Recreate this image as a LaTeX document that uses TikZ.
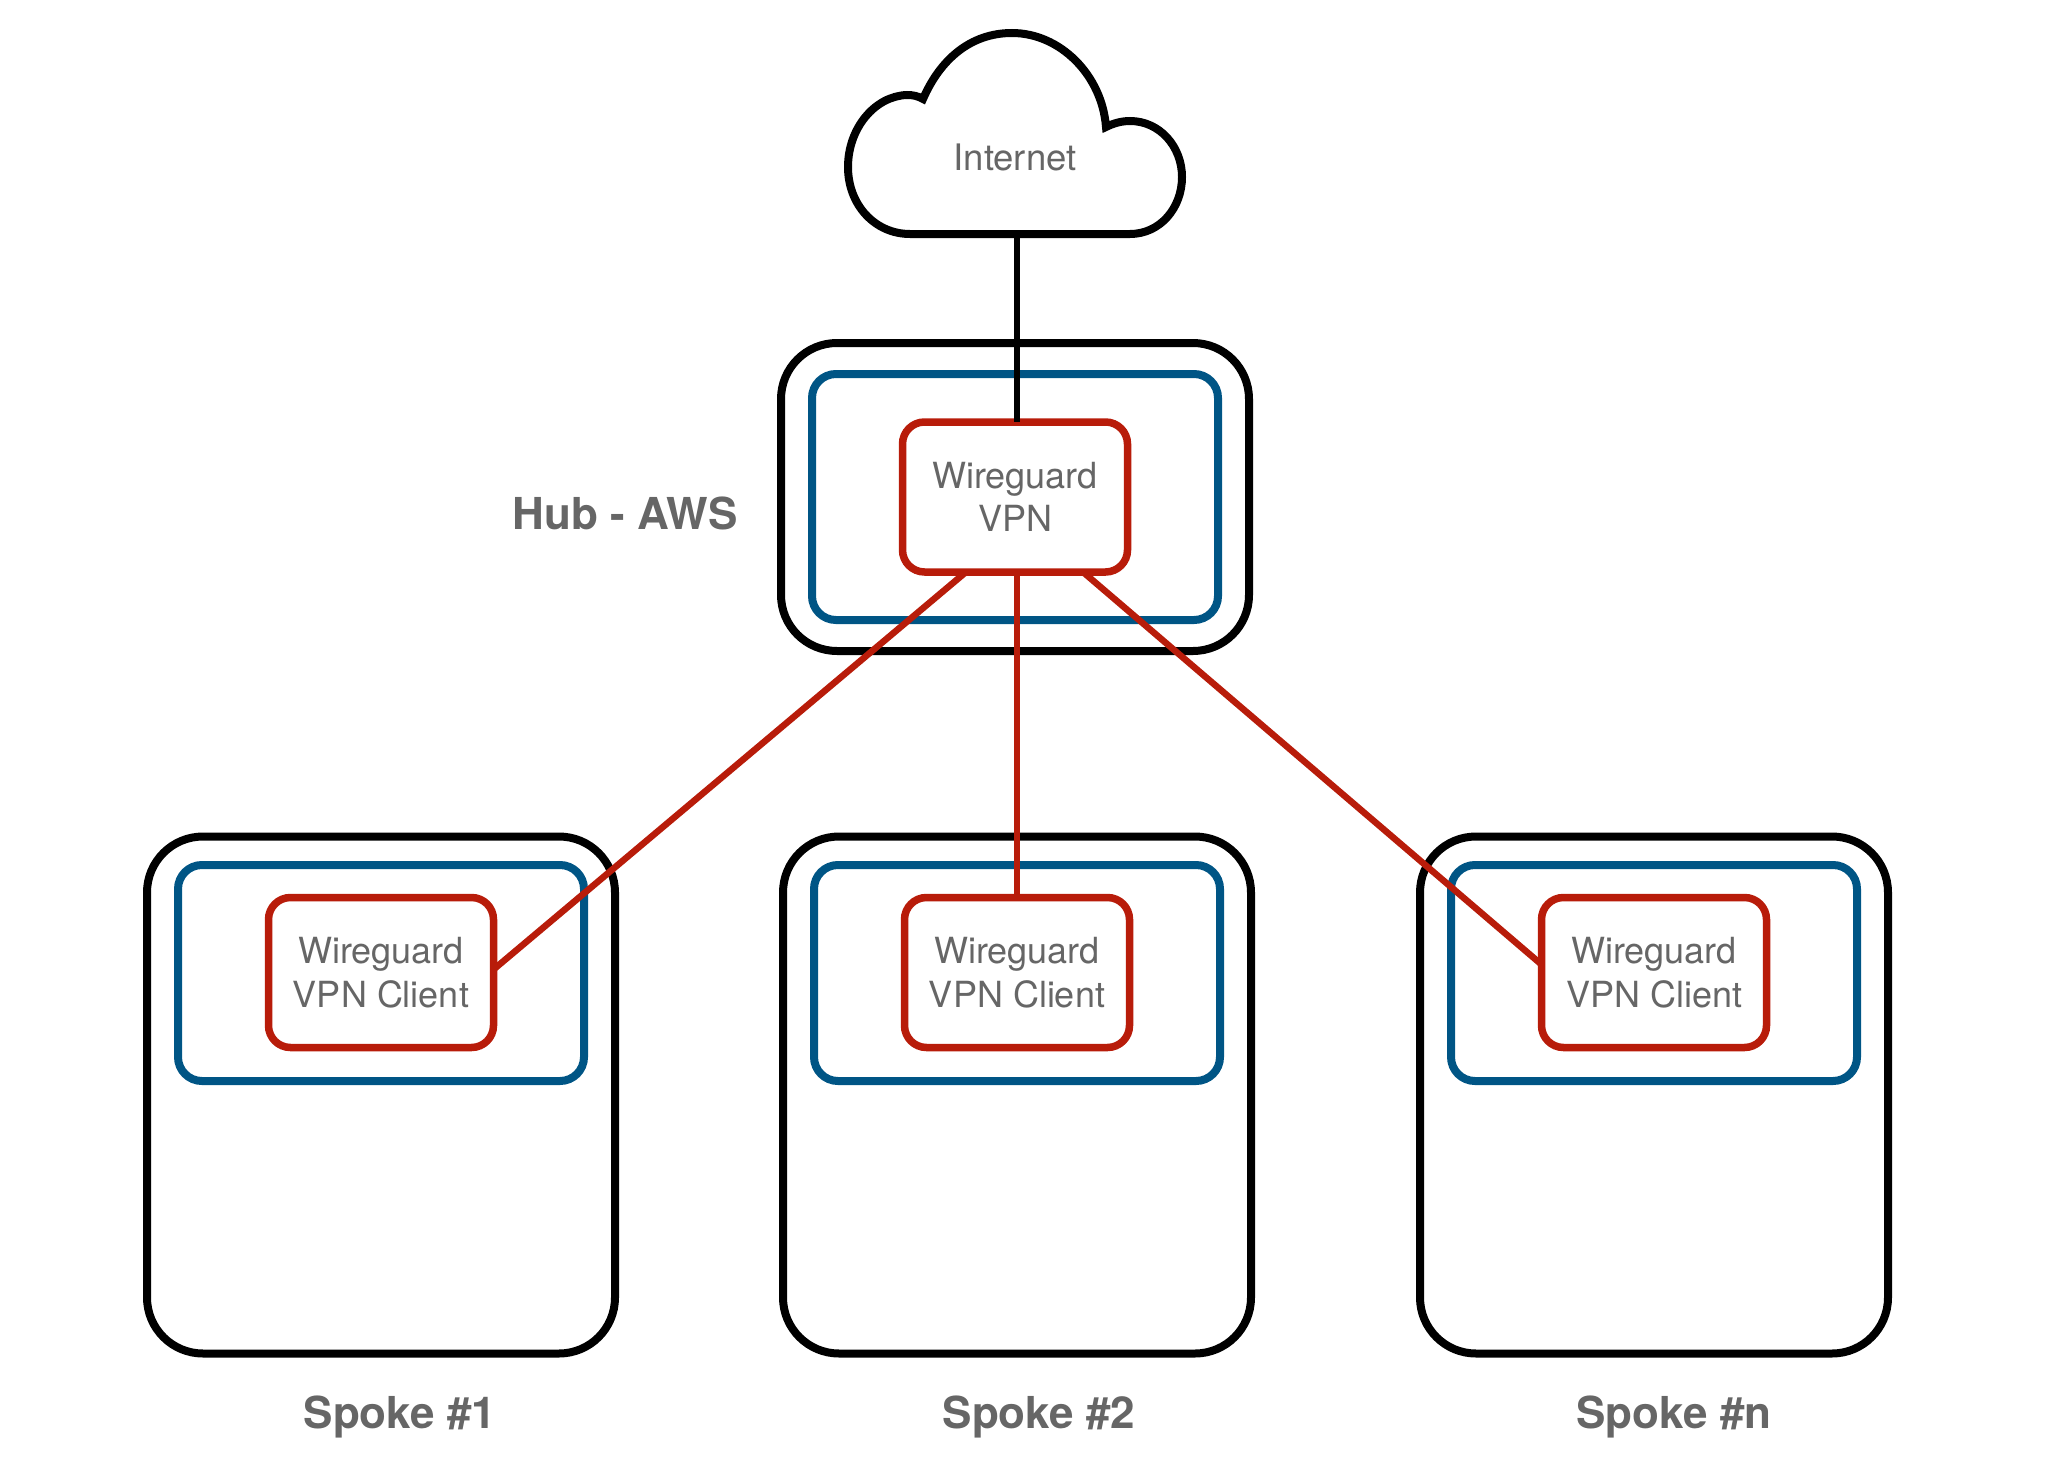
\documentclass[tikz,border=0pt]{standalone}
\usepackage{fontspec}
\setmainfont{TeX Gyre Heros}
\definecolor{wgred}{HTML}{B81C0A}
\definecolor{wgblue}{HTML}{005585}
\definecolor{wgtext}{HTML}{666666}
\tikzset{
  site/.style={draw=black,line width=8pt,rounded corners=56pt,inner sep=0pt,outer sep=0pt},
  vpc/.style={draw=wgblue,line width=8pt,rounded corners=24pt,inner sep=0pt,outer sep=0pt},
  vpnbox/.style={draw=wgred,line width=7.5pt,rounded corners=22pt,fill=white,inner sep=0pt,outer sep=0pt,minimum width=225pt,minimum height=150pt,align=center,text=wgtext,font=\fontsize{36}{43.5}\selectfont},
  caption/.style={text=wgtext,font=\fontsize{44}{50}\selectfont\bfseries,inner sep=0pt},
  link/.style={draw=wgred,line width=6.5pt},
  uplink/.style={draw=black,line width=6.5pt},
}
\begin{document}
\begin{tikzpicture}[x=1pt,y=-1pt]
\useasboundingbox (0,0) rectangle (2058,1464);
% cloud
\draw[black,line width=8pt,line join=miter,fill=white]
  (910,234) .. controls (875,234) and (848,205) .. (848,167)
  .. controls (848,128) and (875,96) .. (907,95)
  .. controls (913,95) and (918,96) .. (923,99)
  .. controls (940,60) and (970,33) .. (1012,33)
  .. controls (1060,33) and (1102,75) .. (1106,127)
  .. controls (1114,123) and (1122,121) .. (1130,121)
  .. controls (1160,121) and (1182,147) .. (1182,177)
  .. controls (1182,208) and (1160,234) .. (1130,234) -- cycle;
\node[text=wgtext,font=\fontsize{36.5}{42}\selectfont,inner sep=0pt] (internet) at (1015,157) {Internet};
\coordinate (cloudbase) at (1017,234);
% hub
\node[site,minimum width=468pt,minimum height=308pt] (hub) at (1015,497) {};
\node[vpc,minimum width=406pt,minimum height=246pt] (hubvpc) at (1015,497) {};
% spokes
\node[site,minimum width=468pt,minimum height=517pt] (s1) at (381,1095) {};
\node[vpc,minimum width=406pt,minimum height=216pt] (s1vpc) at (381,973) {};
\node[site,minimum width=468pt,minimum height=517pt] (s2) at (1017,1095) {};
\node[vpc,minimum width=406pt,minimum height=216pt] (s2vpc) at (1017,973) {};
\node[site,minimum width=468pt,minimum height=517pt] (s3) at (1654,1095) {};
\node[vpc,minimum width=406pt,minimum height=216pt] (s3vpc) at (1654,973) {};
% vpn boxes
\node[vpnbox] (hubvpn) at (1015,497) {Wireguard\\VPN};
\node[vpnbox] (c1) at (381,972.5) {Wireguard\\VPN Client};
\node[vpnbox] (c2) at (1017,972.5) {Wireguard\\VPN Client};
\node[vpnbox] (c3) at (1654,972.5) {Wireguard\\VPN Client};
% connectors
\draw[uplink] (cloudbase) -- (cloudbase |- hubvpn.north);
\draw[link] ([xshift=-49pt]hubvpn.south) -- ([yshift=3pt]c1.east);
\draw[link] (c2.north |- hubvpn.south) -- (c2.north);
\draw[link] ([xshift=68pt]hubvpn.south) -- ([yshift=8pt]c3.west);
% captions
\node[caption] (hublabel) at (625,513.5) {Hub - AWS};
\node[caption] (l1) at (400,1417) {Spoke \#1};
\node[caption] (l2) at (1039,1417) {Spoke \#2};
\node[caption] (l3) at (1674,1417) {Spoke \#n};
\end{tikzpicture}
\end{document}
